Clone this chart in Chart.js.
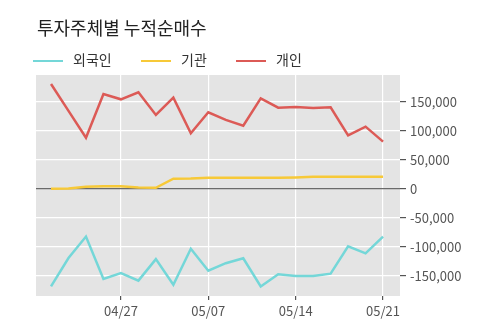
<!DOCTYPE html>
<html>
<head>
<meta charset="utf-8">
<script src="https://cdn.jsdelivr.net/npm/chart.js@4/dist/chart.umd.min.js"></script>
<style>
    html, body { margin: 0; padding: 0; background: #fff; }
    #wrap { position: relative; width: 500px; height: 323px; font-family: "Noto Sans CJK KR", sans-serif; }
    #title { position: absolute; left: 37px; top: 14px; font-size: 18px; color: #222; }
    #legend { position: absolute; left: 33px; top: 49px; font-size: 14px; color: #333; }
    .item { position: absolute; top: 0; white-space: nowrap; line-height: 20px; }
    .item i { display: inline-block; width: 30px; height: 2.5px; vertical-align: middle; margin-right: 10px; }
    canvas { position: absolute; left: 0; top: 0; }
</style>
</head>
<body>
<div id="wrap">
    <canvas id="flowChart" width="500" height="323"></canvas>
    <div id="title">투자주체별 누적순매수</div>
    <div id="legend"></div>
</div>
<script>
// Trading days (2020)
const dates = ['04/21', '04/22', '04/23', '04/24', '04/27', '04/28', '04/29', '05/04', '05/06', '05/07',
    '05/08', '05/11', '05/12', '05/13', '05/14', '05/15', '05/18', '05/19', '05/20', '05/21'];
const labelDays = ['04/27', '05/07', '05/14', '05/21'];
const yTicks = [-150000, -100000, -50000, 0, 50000, 100000, 150000];

const foreign = [-168000, -119000, -82000, -155000, -145000, -158000, -121000, -165000, -103000, -141000,
    -128000, -119500, -168000, -147000, -150000, -150000, -146000, -99000, -111000, -82000];
const institution = [500, 1000, 4000, 4500, 4500, 2500, 2000, 17800, 18000, 19500,
    19500, 19500, 19500, 19500, 20000, 21000, 21000, 21000, 21000, 21000];
const individual = [181000, 134700, 88400, 163800, 154600, 166700, 127600, 157400, 96000, 132200,
    119000, 109200, 156300, 140200, 141400, 139700, 140800, 92500, 107500, 81600];

const series = [
    { name: '외국인', values: foreign, color: '#74D7D8' },
    { name: '기관', values: institution, color: '#F7C938' },
    { name: '개인', values: individual, color: '#DC5A56' }
];

// Legend
const legendEl = document.getElementById('legend');
[0, 108, 203].forEach((left, i) => {
    const div = document.createElement('div');
    div.className = 'item';
    div.style.left = left + 'px';
    div.innerHTML = `<i style="background:${series[i].color}"></i>${series[i].name}`;
    legendEl.appendChild(div);
});

const plotBg = {
    id: 'plotBg',
    beforeDraw(chart) {
        const { ctx, chartArea: a } = chart;
        ctx.save();
        ctx.fillStyle = '#E4E4E4';
        ctx.fillRect(a.left, a.top, a.right - a.left, a.bottom - a.top);
        ctx.restore();
    }
};

const isLabelDay = i => labelDays.includes(dates[i]);

new Chart(document.getElementById('flowChart').getContext('2d'), {
    type: 'line',
    data: {
        datasets: series.map(s => ({
            label: s.name,
            data: s.values.map((v, i) => ({ x: i, y: v })),
            borderColor: s.color,
            borderWidth: 2.5,
            pointRadius: 0,
            tension: 0,
            fill: false
        }))
    },
    options: {
        responsive: false,
        animation: false,
        layout: { padding: { left: 36, top: 75, right: 0, bottom: 0 } },
        plugins: { legend: { display: false }, title: { display: false }, tooltip: { enabled: false } },
        scales: {
            x: {
                type: 'linear',
                min: -0.86,
                max: 19.97,
                afterBuildTicks: scale => {
                    scale.ticks = dates.map((d, i) => ({ value: i })).filter(t => isLabelDay(t.value));
                },
                afterFit: scale => { scale.height = 27; },
                border: { display: false },
                grid: { color: '#ffffff', lineWidth: 1.2, tickLength: 4, tickColor: '#555' },
                ticks: {
                    callback: v => dates[v],
                    color: '#555',
                    padding: 3,
                    maxRotation: 0,
                    font: { family: 'Noto Sans CJK KR', size: 13 }
                }
            },
            y: {
                position: 'right',
                min: -184500,
                max: 196500,
                afterBuildTicks: scale => { scale.ticks = yTicks.map(v => ({ value: v })); },
                afterFit: scale => { scale.width = 100; },
                border: { display: false },
                grid: {
                    color: c => (c.tick && c.tick.value === 0 ? '#6a6a6a' : '#ffffff'),
                    lineWidth: 1.2,
                    tickLength: 6,
                    tickColor: '#555'
                },
                ticks: {
                    callback: v => v.toLocaleString('en-US'),
                    color: '#555',
                    padding: 4,
                    font: { family: 'Noto Sans CJK KR', size: 13 }
                }
            }
        }
    },
    plugins: [plotBg]
});
</script>
</body>
</html>
